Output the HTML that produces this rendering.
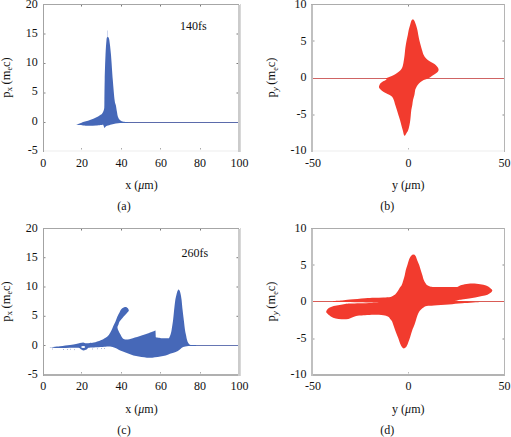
<!DOCTYPE html>
<html><head><meta charset="utf-8">
<style>
html,body{margin:0;padding:0;background:#fff;}
body{width:511px;height:437px;overflow:hidden;position:relative;}
svg{position:absolute;left:0;top:0;}
text{font-family:"Liberation Serif",serif;font-size:12px;fill:#111;}
.yl{font-size:12.5px;}
</style></head><body>
<svg width="511" height="437" viewBox="0 0 511 437" shape-rendering="auto">
<g>
<rect x="43" y="4" width="1" height="148" fill="#a3a3a3"/>
<rect x="43" y="4" width="196" height="1" fill="#a6a6a6"/>
<rect x="238" y="5" width="2" height="147" fill="#cbcbcb"/>
<rect x="240" y="4" width="1" height="148" fill="#d8d8d8"/>
<rect x="44" y="150" width="194" height="2" fill="#f6f6f6"/>
<rect x="81" y="5" width="1" height="1.5" fill="#777"/>
<rect x="81" y="148" width="1" height="1.5" fill="#aaa"/>
<rect x="121" y="5" width="1" height="1.5" fill="#777"/>
<rect x="121" y="148" width="1" height="1.5" fill="#aaa"/>
<rect x="160" y="5" width="1" height="1.5" fill="#777"/>
<rect x="160" y="148" width="1" height="1.5" fill="#aaa"/>
<rect x="200" y="5" width="1" height="1.5" fill="#777"/>
<rect x="200" y="148" width="1" height="1.5" fill="#aaa"/>
<rect x="44" y="33.5" width="1.5" height="1" fill="#888"/>
<rect x="236.5" y="33.5" width="1.5" height="1" fill="#777"/>
<rect x="44" y="63.0" width="1.5" height="1" fill="#888"/>
<rect x="236.5" y="63.0" width="1.5" height="1" fill="#777"/>
<rect x="44" y="92.5" width="1.5" height="1" fill="#888"/>
<rect x="236.5" y="92.5" width="1.5" height="1" fill="#777"/>
<rect x="44" y="122.0" width="1.5" height="1" fill="#888"/>
<rect x="236.5" y="122.0" width="1.5" height="1" fill="#777"/>
<rect x="118" y="122" width="120" height="1" fill="#5b6bab"/>
<path fill="#4668b8" d="M76.20,125.10 C76.20,125.10 79.50,123.65 80.80,123.10 C82.10,122.55 82.80,122.20 84.00,121.80 C85.20,121.40 86.67,121.12 88.00,120.70 C89.33,120.28 90.67,119.83 92.00,119.30 C93.33,118.77 94.67,118.18 96.00,117.50 C97.33,116.82 99.00,115.82 100.00,115.20 C101.00,114.58 101.42,114.50 102.00,113.80 C102.58,113.10 103.12,112.10 103.50,111.00 C103.88,109.90 104.15,109.03 104.30,107.20 C104.45,105.37 104.33,104.53 104.40,100.00 C104.47,95.47 104.52,87.50 104.70,80.00 C104.88,72.50 105.20,61.67 105.50,55.00 C105.80,48.33 106.20,43.00 106.50,40.00 C106.80,37.00 107.12,37.60 107.30,37.00 C107.48,36.40 107.47,36.40 107.60,36.40 C107.73,36.40 107.82,36.40 108.10,37.00 C108.38,37.60 108.82,37.00 109.30,40.00 C109.78,43.00 110.42,48.33 111.00,55.00 C111.58,61.67 112.20,72.50 112.80,80.00 C113.40,87.50 114.10,95.83 114.60,100.00 C115.10,104.17 115.42,103.07 115.80,105.00 C116.18,106.93 116.53,109.60 116.90,111.60 C117.27,113.60 117.45,115.55 118.00,117.00 C118.55,118.45 119.28,119.50 120.20,120.30 C121.12,121.10 122.20,121.52 123.50,121.80 C124.80,122.08 128.00,122.00 128.00,122.00 C128.00,122.00 128.00,123.00 128.00,123.00 C128.00,123.00 124.80,123.00 123.50,123.00 C122.20,123.00 121.48,122.93 120.20,123.00 C118.92,123.07 117.25,123.17 115.80,123.40 C114.35,123.63 112.95,124.00 111.50,124.40 C110.05,124.80 108.12,125.38 107.10,125.80 C106.08,126.22 105.85,126.53 105.40,126.90 C104.95,127.27 104.40,128.00 104.40,128.00 C104.40,128.00 103.20,124.80 103.20,124.80 C103.20,124.80 98.57,125.43 96.10,125.60 C93.63,125.77 90.58,125.83 88.40,125.80 C86.22,125.77 85.03,125.52 83.00,125.40 C80.97,125.28 76.20,125.10 76.20,125.10Z"/>
<rect x="107.2" y="30.5" width="0.8" height="6" fill="#c3cdeb"/>
<text x="37.8" y="8.1" text-anchor="end">20</text>
<text x="37.8" y="37.2" text-anchor="end">15</text>
<text x="37.8" y="66.3" text-anchor="end">10</text>
<text x="37.8" y="95.4" text-anchor="end">5</text>
<text x="37.8" y="124.5" text-anchor="end">0</text>
<text x="37.8" y="153.6" text-anchor="end">-5</text>
<text x="43.3" y="166.8" text-anchor="middle">0</text>
<text x="82.0" y="166.8" text-anchor="middle">20</text>
<text x="121.5" y="166.8" text-anchor="middle">40</text>
<text x="161.0" y="166.8" text-anchor="middle">60</text>
<text x="200.1" y="166.8" text-anchor="middle">80</text>
<text x="239.6" y="166.8" text-anchor="middle">100</text>
<text x="141.5" y="189.0" text-anchor="middle">x (<tspan font-style="italic">μ</tspan>m)</text>
<text x="124" y="210.0" text-anchor="middle">(a)</text>
<text x="179.9" y="30.1">140fs</text>
<text class="yl" transform="translate(9.5,77.5) rotate(-90)" text-anchor="middle">p<tspan font-size="9" dy="2.5">x</tspan><tspan dy="-2.5" dx="-0.5"> (m</tspan><tspan font-size="8" dy="2.5">e</tspan><tspan dy="-2.5">c)</tspan></text>
</g>
<g>
<rect x="311" y="4" width="2" height="148" fill="#c0c0c0"/>
<rect x="311" y="4" width="194" height="1" fill="#acacac"/>
<rect x="504" y="4" width="1" height="148" fill="#b5b5b5"/>
<rect x="313" y="150" width="191" height="2" fill="#f6f6f6"/>
<rect x="408" y="5" width="1" height="1.5" fill="#888"/>
<rect x="408" y="148" width="1" height="1.5" fill="#bbb"/>
<rect x="313" y="40.5" width="1.5" height="1" fill="#999"/>
<rect x="502.5" y="40.5" width="1.5" height="1" fill="#888"/>
<rect x="313" y="114.5" width="1.5" height="1" fill="#999"/>
<rect x="502.5" y="114.5" width="1.5" height="1" fill="#888"/>
<rect x="313" y="78" width="191" height="1" fill="#cf6464"/>
<path fill="#f23b2e" d="M412.80,19.60 C413.25,19.60 413.67,19.60 414.20,20.50 C414.73,21.40 415.47,23.42 416.00,25.00 C416.53,26.58 417.02,28.33 417.40,30.00 C417.78,31.67 417.98,33.33 418.30,35.00 C418.62,36.67 418.92,38.33 419.30,40.00 C419.68,41.67 420.15,43.33 420.60,45.00 C421.05,46.67 421.48,48.33 422.00,50.00 C422.52,51.67 423.08,53.67 423.70,55.00 C424.32,56.33 425.02,57.17 425.70,58.00 C426.38,58.83 426.93,59.33 427.80,60.00 C428.67,60.67 429.78,61.33 430.90,62.00 C432.02,62.67 433.55,63.33 434.50,64.00 C435.45,64.67 436.00,65.33 436.60,66.00 C437.20,66.67 437.77,67.33 438.10,68.00 C438.43,68.67 438.68,69.33 438.60,70.00 C438.52,70.67 438.20,71.33 437.60,72.00 C437.00,72.67 435.95,73.33 435.00,74.00 C434.05,74.67 432.75,75.42 431.90,76.00 C431.05,76.58 430.75,77.00 429.90,77.50 C429.05,78.00 427.83,78.58 426.80,79.00 C425.77,79.42 424.73,79.50 423.70,80.00 C422.67,80.50 421.47,81.33 420.60,82.00 C419.73,82.67 419.10,83.33 418.50,84.00 C417.90,84.67 417.42,85.33 417.00,86.00 C416.58,86.67 416.30,87.33 416.00,88.00 C415.70,88.67 415.47,88.83 415.20,90.00 C414.93,91.17 414.77,93.33 414.40,95.00 C414.03,96.67 413.35,98.33 413.00,100.00 C412.65,101.67 412.58,103.33 412.30,105.00 C412.02,106.67 411.55,108.33 411.30,110.00 C411.05,111.67 410.97,113.33 410.80,115.00 C410.63,116.67 410.52,118.33 410.30,120.00 C410.08,121.67 409.85,123.33 409.50,125.00 C409.15,126.67 408.68,128.67 408.20,130.00 C407.72,131.33 407.23,132.03 406.60,133.00 C405.97,133.97 405.05,136.30 404.40,135.80 C403.75,135.30 403.22,131.80 402.70,130.00 C402.18,128.20 401.75,126.67 401.30,125.00 C400.85,123.33 400.48,121.67 400.00,120.00 C399.52,118.33 398.92,116.67 398.40,115.00 C397.88,113.33 397.42,111.67 396.90,110.00 C396.38,108.33 395.82,106.67 395.30,105.00 C394.78,103.33 394.25,101.25 393.80,100.00 C393.35,98.75 392.98,98.13 392.60,97.50 C392.22,96.87 392.07,96.65 391.50,96.20 C390.93,95.75 390.18,95.33 389.20,94.80 C388.22,94.27 386.82,93.68 385.60,93.00 C384.38,92.32 382.90,91.47 381.90,90.70 C380.90,89.93 380.08,89.10 379.60,88.40 C379.12,87.70 378.85,87.35 379.00,86.50 C379.15,85.65 379.72,84.22 380.50,83.30 C381.28,82.38 382.70,81.65 383.70,81.00 C384.70,80.35 386.28,79.82 386.50,79.40 C386.72,78.98 385.00,78.50 385.00,78.50 C385.00,78.50 387.88,77.50 389.20,77.00 C390.52,76.50 391.83,76.00 392.90,75.50 C393.97,75.00 394.68,74.58 395.60,74.00 C396.52,73.42 397.55,72.67 398.40,72.00 C399.25,71.33 400.10,70.67 400.70,70.00 C401.30,69.33 401.62,68.83 402.00,68.00 C402.38,67.17 402.68,66.33 403.00,65.00 C403.32,63.67 403.63,61.67 403.90,60.00 C404.17,58.33 404.40,56.67 404.60,55.00 C404.80,53.33 404.90,51.67 405.10,50.00 C405.30,48.33 405.53,46.67 405.80,45.00 C406.07,43.33 406.37,41.67 406.70,40.00 C407.03,38.33 407.47,36.67 407.80,35.00 C408.13,33.33 408.32,31.67 408.70,30.00 C409.08,28.33 409.63,26.58 410.10,25.00 C410.57,23.42 411.05,21.40 411.50,20.50 C411.95,19.60 412.35,19.60 412.80,19.60Z"/>
<text x="306.6" y="8.1" text-anchor="end">10</text>
<text x="306.6" y="44.6" text-anchor="end">5</text>
<text x="306.6" y="81.1" text-anchor="end">0</text>
<text x="306.6" y="117.6" text-anchor="end">-5</text>
<text x="306.6" y="154.1" text-anchor="end">-10</text>
<text x="313.0" y="166.8" text-anchor="middle">-50</text>
<text x="408.5" y="166.8" text-anchor="middle">0</text>
<text x="504.5" y="166.8" text-anchor="middle">50</text>
<text x="408.3" y="189.0" text-anchor="middle">y (<tspan font-style="italic">μ</tspan>m)</text>
<text x="387.2" y="210.0" text-anchor="middle">(b)</text>
<text class="yl" transform="translate(275.3,77.5) rotate(-90)" text-anchor="middle">p<tspan font-size="9" dy="2.5" font-style="italic">y</tspan><tspan dy="-2.5" dx="-0.5"> (m</tspan><tspan font-size="8" dy="2.5">e</tspan><tspan dy="-2.5">c)</tspan></text>
</g>
<g>
<rect x="43" y="228" width="1" height="148" fill="#a3a3a3"/>
<rect x="43" y="228" width="196" height="1" fill="#a6a6a6"/>
<rect x="238" y="229" width="2" height="147" fill="#cbcbcb"/>
<rect x="240" y="228" width="1" height="148" fill="#d8d8d8"/>
<rect x="44" y="374" width="194" height="2" fill="#b0b0b0"/>
<rect x="81" y="229" width="1" height="1.5" fill="#777"/>
<rect x="81" y="372" width="1" height="1.5" fill="#aaa"/>
<rect x="121" y="229" width="1" height="1.5" fill="#777"/>
<rect x="121" y="372" width="1" height="1.5" fill="#aaa"/>
<rect x="160" y="229" width="1" height="1.5" fill="#777"/>
<rect x="160" y="372" width="1" height="1.5" fill="#aaa"/>
<rect x="200" y="229" width="1" height="1.5" fill="#777"/>
<rect x="200" y="372" width="1" height="1.5" fill="#aaa"/>
<rect x="44" y="257.2" width="1.5" height="1" fill="#888"/>
<rect x="236.5" y="257.2" width="1.5" height="1" fill="#777"/>
<rect x="44" y="286.5" width="1.5" height="1" fill="#888"/>
<rect x="236.5" y="286.5" width="1.5" height="1" fill="#777"/>
<rect x="44" y="315.8" width="1.5" height="1" fill="#888"/>
<rect x="236.5" y="315.8" width="1.5" height="1" fill="#777"/>
<rect x="44" y="345.0" width="1.5" height="1" fill="#888"/>
<rect x="236.5" y="345.0" width="1.5" height="1" fill="#777"/>
<rect x="188" y="345" width="50" height="1" fill="#6676b3"/>
<path fill="#4668b8" d="M49.10,347.40 C49.10,347.40 56.52,346.60 60.00,346.20 C63.48,345.80 67.33,345.38 70.00,345.00 C72.67,344.62 74.33,344.23 76.00,343.90 C77.67,343.57 78.78,343.25 80.00,343.00 C81.22,342.75 82.30,342.37 83.30,342.40 C84.30,342.43 84.88,343.12 86.00,343.20 C87.12,343.28 88.70,343.00 90.00,342.90 C91.30,342.80 92.00,343.05 93.80,342.60 C95.60,342.15 98.90,340.97 100.80,340.20 C102.70,339.43 103.87,338.87 105.20,338.00 C106.53,337.13 107.77,336.23 108.80,335.00 C109.83,333.77 110.67,332.07 111.40,330.60 C112.13,329.13 112.53,327.67 113.20,326.20 C113.87,324.73 114.72,323.38 115.40,321.80 C116.08,320.22 116.62,318.25 117.30,316.70 C117.98,315.15 118.80,313.78 119.50,312.50 C120.20,311.22 120.58,309.92 121.50,309.00 C122.42,308.08 123.98,307.17 125.00,307.00 C126.02,306.83 126.97,307.43 127.60,308.00 C128.23,308.57 128.80,309.70 128.80,310.40 C128.80,311.10 128.65,310.95 127.60,312.20 C126.55,313.45 123.83,316.35 122.50,317.90 C121.17,319.45 120.27,320.42 119.60,321.50 C118.93,322.58 118.85,323.33 118.50,324.40 C118.15,325.47 117.22,326.28 117.50,327.90 C117.78,329.52 119.30,332.33 120.20,334.10 C121.10,335.87 121.85,337.58 122.90,338.50 C123.95,339.42 124.83,339.63 126.50,339.60 C128.17,339.57 130.40,338.97 132.90,338.30 C135.40,337.63 138.80,336.50 141.50,335.60 C144.20,334.70 146.77,333.75 149.10,332.90 C151.43,332.05 155.50,330.50 155.50,330.50 C155.50,330.50 155.80,337.20 155.80,337.20 C155.80,337.20 159.82,338.02 162.00,338.20 C164.18,338.38 168.90,338.30 168.90,338.30 C168.90,338.30 169.95,336.38 170.40,335.00 C170.85,333.62 171.15,332.50 171.60,330.00 C172.05,327.50 172.68,323.33 173.10,320.00 C173.52,316.67 173.73,313.33 174.10,310.00 C174.47,306.67 174.92,302.50 175.30,300.00 C175.68,297.50 176.03,296.50 176.40,295.00 C176.77,293.50 177.13,291.92 177.50,291.00 C177.87,290.08 178.22,289.50 178.60,289.50 C178.98,289.50 179.43,290.08 179.80,291.00 C180.17,291.92 180.50,293.50 180.80,295.00 C181.10,296.50 181.30,297.50 181.60,300.00 C181.90,302.50 182.23,306.67 182.60,310.00 C182.97,313.33 183.40,316.67 183.80,320.00 C184.20,323.33 184.63,327.50 185.00,330.00 C185.37,332.50 185.65,333.33 186.00,335.00 C186.35,336.67 186.72,338.67 187.10,340.00 C187.48,341.33 187.73,342.18 188.30,343.00 C188.87,343.82 189.22,344.57 190.50,344.90 C191.78,345.23 196.00,345.00 196.00,345.00 C196.00,345.00 196.00,346.00 196.00,346.00 C196.00,346.00 189.08,345.95 186.80,346.20 C184.52,346.45 183.55,346.87 182.30,347.50 C181.05,348.13 180.52,349.20 179.30,350.00 C178.08,350.80 176.82,351.57 175.00,352.30 C173.18,353.03 170.38,353.77 168.40,354.40 C166.42,355.03 164.88,355.65 163.10,356.10 C161.32,356.55 159.50,356.83 157.70,357.10 C155.90,357.37 154.10,357.60 152.30,357.70 C150.50,357.80 148.70,357.80 146.90,357.70 C145.10,357.60 143.30,357.37 141.50,357.10 C139.70,356.83 137.88,356.55 136.10,356.10 C134.32,355.65 132.57,355.00 130.80,354.40 C129.03,353.80 127.27,353.17 125.50,352.50 C123.73,351.83 122.12,351.23 120.20,350.40 C118.28,349.57 115.90,348.13 114.00,347.50 C112.10,346.87 110.70,346.68 108.80,346.60 C106.90,346.52 105.10,346.87 102.60,347.00 C100.10,347.13 96.15,347.27 93.80,347.40 C91.45,347.53 89.72,347.43 88.50,347.80 C87.28,348.17 87.33,349.17 86.50,349.60 C85.67,350.03 84.45,350.47 83.50,350.40 C82.55,350.33 81.63,349.63 80.80,349.20 C79.97,348.77 80.30,348.03 78.50,347.80 C76.70,347.57 73.08,347.75 70.00,347.80 C66.92,347.85 63.48,348.17 60.00,348.10 C56.52,348.03 49.10,347.40 49.10,347.40Z"/>
<ellipse cx="83.2" cy="347" rx="2" ry="0.9" fill="#fff"/>
<rect x="52.0" y="348.6" width="0.8" height="0.8" fill="#7d8fc9"/>
<rect x="63.0" y="349.0" width="0.8" height="0.8" fill="#7d8fc9"/>
<rect x="67.0" y="349.2" width="0.8" height="0.8" fill="#7d8fc9"/>
<rect x="70.0" y="348.8" width="0.8" height="0.8" fill="#7d8fc9"/>
<rect x="74.0" y="349.3" width="0.8" height="0.8" fill="#7d8fc9"/>
<rect x="92.0" y="348.6" width="0.8" height="0.8" fill="#7d8fc9"/>
<rect x="97.0" y="348.4" width="0.8" height="0.8" fill="#7d8fc9"/>
<rect x="101.0" y="348.0" width="0.8" height="0.8" fill="#7d8fc9"/>
<rect x="104.0" y="348.2" width="0.8" height="0.8" fill="#7d8fc9"/>
<text x="37.8" y="232.1" text-anchor="end">20</text>
<text x="37.8" y="261.2" text-anchor="end">15</text>
<text x="37.8" y="290.3" text-anchor="end">10</text>
<text x="37.8" y="319.4" text-anchor="end">5</text>
<text x="37.8" y="348.5" text-anchor="end">0</text>
<text x="37.8" y="377.6" text-anchor="end">-5</text>
<text x="43.3" y="390.3" text-anchor="middle">0</text>
<text x="82.0" y="390.3" text-anchor="middle">20</text>
<text x="121.5" y="390.3" text-anchor="middle">40</text>
<text x="161.0" y="390.3" text-anchor="middle">60</text>
<text x="200.1" y="390.3" text-anchor="middle">80</text>
<text x="239.6" y="390.3" text-anchor="middle">100</text>
<text x="141.5" y="413.2" text-anchor="middle">x (<tspan font-style="italic">μ</tspan>m)</text>
<text x="124" y="433.7" text-anchor="middle">(c)</text>
<text x="181.4" y="256.8">260fs</text>
<text class="yl" transform="translate(9.5,301.5) rotate(-90)" text-anchor="middle">p<tspan font-size="9" dy="2.5">x</tspan><tspan dy="-2.5" dx="-0.5"> (m</tspan><tspan font-size="8" dy="2.5">e</tspan><tspan dy="-2.5">c)</tspan></text>
</g>
<g>
<rect x="311" y="228" width="2" height="148" fill="#c0c0c0"/>
<rect x="311" y="228" width="194" height="1" fill="#acacac"/>
<rect x="504" y="228" width="1" height="148" fill="#b5b5b5"/>
<rect x="313" y="374" width="191" height="2" fill="#b3b3b3"/>
<rect x="408" y="229" width="1" height="1.5" fill="#888"/>
<rect x="408" y="372" width="1" height="1.5" fill="#bbb"/>
<rect x="313" y="264.5" width="1.5" height="1" fill="#999"/>
<rect x="502.5" y="264.5" width="1.5" height="1" fill="#888"/>
<rect x="313" y="338.5" width="1.5" height="1" fill="#999"/>
<rect x="502.5" y="338.5" width="1.5" height="1" fill="#888"/>
<rect x="313" y="301" width="191" height="1" fill="#d95c56"/>
<path fill="#f23b2e" d="M413.50,254.60 C414.27,254.60 415.00,255.10 415.60,256.00 C416.20,256.90 416.50,258.50 417.10,260.00 C417.70,261.50 418.60,263.33 419.20,265.00 C419.80,266.67 420.18,268.33 420.70,270.00 C421.22,271.67 421.78,273.33 422.30,275.00 C422.82,276.67 423.28,278.67 423.80,280.00 C424.32,281.33 424.88,282.17 425.40,283.00 C425.92,283.83 426.13,284.42 426.90,285.00 C427.67,285.58 428.80,286.17 430.00,286.50 C431.20,286.83 431.82,286.90 434.10,287.00 C436.38,287.10 439.82,287.08 443.70,287.10 C447.58,287.12 457.40,287.10 457.40,287.10 C457.40,287.10 459.67,285.67 461.50,285.10 C463.33,284.53 465.88,283.93 468.40,283.70 C470.92,283.47 474.10,283.52 476.60,283.70 C479.10,283.88 481.47,284.35 483.40,284.80 C485.33,285.25 486.83,285.67 488.20,286.40 C489.57,287.13 490.92,288.52 491.60,289.20 C492.28,289.88 492.40,289.93 492.30,290.50 C492.20,291.07 491.80,291.90 491.00,292.60 C490.20,293.30 489.00,294.13 487.50,294.70 C486.00,295.27 484.05,295.55 482.00,296.00 C479.95,296.45 477.33,296.98 475.20,297.40 C473.07,297.82 471.40,298.13 469.20,298.50 C467.00,298.87 464.37,299.22 462.00,299.60 C459.63,299.98 455.00,300.80 455.00,300.80 C455.00,300.80 465.83,301.42 470.00,301.60 C474.17,301.78 480.00,301.90 480.00,301.90 C480.00,301.90 467.62,302.78 462.40,303.20 C457.18,303.62 453.43,304.03 448.70,304.40 C443.97,304.77 437.65,305.13 434.00,305.40 C430.35,305.67 428.68,305.57 426.80,306.00 C424.92,306.43 423.90,307.15 422.70,308.00 C421.50,308.85 420.47,309.90 419.60,311.10 C418.73,312.30 418.10,313.73 417.50,315.20 C416.90,316.67 416.52,318.27 416.00,319.90 C415.48,321.53 414.98,323.38 414.40,325.00 C413.82,326.62 413.20,327.60 412.50,329.60 C411.80,331.60 410.97,334.70 410.20,337.00 C409.43,339.30 408.58,341.73 407.90,343.40 C407.22,345.07 406.78,346.17 406.10,347.00 C405.42,347.83 404.50,348.40 403.80,348.40 C403.10,348.40 402.52,347.83 401.90,347.00 C401.28,346.17 400.70,344.85 400.10,343.40 C399.50,341.95 398.98,340.13 398.30,338.30 C397.62,336.47 396.77,334.45 396.00,332.40 C395.23,330.35 394.38,327.90 393.70,326.00 C393.02,324.10 392.48,322.18 391.90,321.00 C391.32,319.82 390.87,319.63 390.20,318.90 C389.53,318.17 389.05,317.22 387.90,316.60 C386.75,315.98 385.58,315.52 383.30,315.20 C381.02,314.88 377.25,314.70 374.20,314.70 C371.15,314.70 367.52,315.05 365.00,315.20 C362.48,315.35 361.05,315.32 359.10,315.60 C357.15,315.88 355.08,316.35 353.30,316.90 C351.52,317.45 350.37,318.52 348.40,318.90 C346.43,319.28 343.62,319.28 341.50,319.20 C339.38,319.12 337.48,318.87 335.70,318.40 C333.92,317.93 332.28,317.30 330.80,316.40 C329.32,315.50 327.53,313.90 326.80,313.00 C326.07,312.10 326.07,311.82 326.40,311.00 C326.73,310.18 327.58,308.92 328.80,308.10 C330.02,307.28 331.90,306.62 333.70,306.10 C335.50,305.58 337.72,305.35 339.60,305.00 C341.48,304.65 343.27,304.23 345.00,304.00 C346.73,303.77 347.50,303.73 350.00,303.60 C352.50,303.47 356.33,303.32 360.00,303.20 C363.67,303.08 368.17,303.00 372.00,302.90 C375.83,302.80 383.00,302.60 383.00,302.60 C383.00,302.60 375.83,302.57 372.00,302.50 C368.17,302.43 363.67,302.30 360.00,302.20 C356.33,302.10 353.00,301.95 350.00,301.90 C347.00,301.85 344.83,301.90 342.00,301.90 C339.17,301.90 333.00,301.90 333.00,301.90 C333.00,301.90 333.00,301.10 333.00,301.10 C333.00,301.10 339.17,300.85 342.00,300.60 C344.83,300.35 346.17,300.00 350.00,299.60 C353.83,299.20 360.97,298.50 365.00,298.20 C369.03,297.90 371.15,297.93 374.20,297.80 C377.25,297.67 380.57,297.55 383.30,297.40 C386.03,297.25 388.77,297.28 390.60,296.90 C392.43,296.52 393.15,296.02 394.30,295.10 C395.45,294.18 396.62,292.58 397.50,291.40 C398.38,290.22 398.90,289.07 399.60,288.00 C400.30,286.93 401.07,286.33 401.70,285.00 C402.33,283.67 402.88,281.67 403.40,280.00 C403.92,278.33 404.40,276.67 404.80,275.00 C405.20,273.33 405.37,271.67 405.80,270.00 C406.23,268.33 406.88,266.67 407.40,265.00 C407.92,263.33 408.30,261.50 408.90,260.00 C409.50,258.50 410.23,256.90 411.00,256.00 C411.77,255.10 412.73,254.60 413.50,254.60Z"/>
<text x="306.6" y="232.1" text-anchor="end">10</text>
<text x="306.6" y="268.6" text-anchor="end">5</text>
<text x="306.6" y="305.1" text-anchor="end">0</text>
<text x="306.6" y="341.6" text-anchor="end">-5</text>
<text x="306.6" y="378.1" text-anchor="end">-10</text>
<text x="313.0" y="390.3" text-anchor="middle">-50</text>
<text x="408.5" y="390.3" text-anchor="middle">0</text>
<text x="504.5" y="390.3" text-anchor="middle">50</text>
<text x="408.3" y="413.2" text-anchor="middle">y (<tspan font-style="italic">μ</tspan>m)</text>
<text x="387.2" y="433.7" text-anchor="middle">(d)</text>
<text class="yl" transform="translate(275.3,301.5) rotate(-90)" text-anchor="middle">p<tspan font-size="9" dy="2.5" font-style="italic">y</tspan><tspan dy="-2.5" dx="-0.5"> (m</tspan><tspan font-size="8" dy="2.5">e</tspan><tspan dy="-2.5">c)</tspan></text>
</g>
</svg>
</body></html>
